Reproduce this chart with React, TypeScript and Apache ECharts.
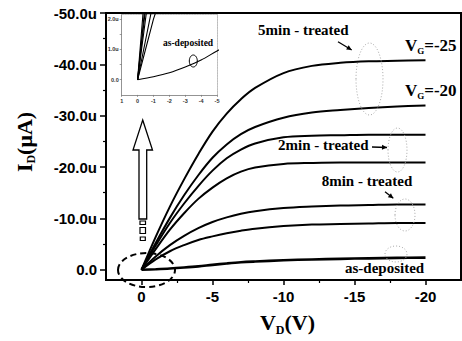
import React, { useEffect, useRef } from 'react';
import * as echarts from 'echarts';

// Drain voltage samples (V)
const VD = [0, -1, -2, -3, -4, -5, -6, -7, -8, -10, -12, -14, -16, -18, -20];
// Drain currents (uA)
const ID_5MIN_VG25 = [0, -6.4, -12.3, -17.6, -22.5, -26.9, -30.4, -33.2, -35.4, -38.3, -39.7, -40.3, -40.6, -40.7, -40.8];
const ID_5MIN_VG20 = [0, -5.2, -10.1, -14.5, -18.4, -21.8, -24.4, -26.4, -27.8, -29.6, -30.6, -31.1, -31.5, -31.8, -32.0];
const ID_2MIN_VG25 = [0, -4.7, -9.1, -12.9, -16.3, -19.3, -21.7, -23.4, -24.6, -25.8, -26.1, -26.2, -26.3, -26.3, -26.3];
const ID_2MIN_VG20 = [0, -4.0, -7.8, -11.0, -13.8, -16.0, -17.8, -19.1, -19.9, -20.6, -20.8, -20.9, -20.9, -20.9, -20.9];
const ID_8MIN_VG25 = [0, -2.6, -4.8, -6.6, -8.1, -9.3, -10.2, -10.9, -11.4, -12.0, -12.3, -12.5, -12.6, -12.7, -12.7];
const ID_8MIN_VG20 = [0, -2.0, -3.6, -4.8, -5.8, -6.5, -7.1, -7.6, -8.0, -8.5, -8.8, -8.9, -9.0, -9.1, -9.1];
const ID_AS_DEP = [0, -0.1, -0.23, -0.42, -0.65, -0.95, -1.22, -1.45, -1.6, -1.85, -2.0, -2.12, -2.22, -2.3, -2.35];

const CURVES = [ID_5MIN_VG25, ID_5MIN_VG20, ID_2MIN_VG25, ID_2MIN_VG20, ID_8MIN_VG25, ID_8MIN_VG20, ID_AS_DEP];
const CURVE_NAMES = ['5min VG=-25', '5min VG=-20', '2min VG=-25', '2min VG=-20', '8min VG=-25', '8min VG=-20', 'as-deposited'];

// Ticks
const X_MAJOR = [0, -5, -10, -15, -20];
const X_MINOR = [-2.5, -7.5, -12.5, -17.5];
const Y_MAJOR = [-50, -40, -30, -20, -10, 0];
const Y_MINOR = [-45, -35, -25, -15, -5];
const INSET_Y_LABELS = [0, 1, 2];
const INSET_Y_TICKS = [0, 0.5, 1, 1.5, 2];

const SANS = 'Liberation Sans';
const SERIF = 'Liberation Serif';

function arrowHead(x1: number, y1: number, x2: number, y2: number, len = 5, half = 2.5) {
  const dx = x2 - x1;
  const dy = y2 - y1;
  const d = Math.hypot(dx, dy);
  const ux = dx / d;
  const uy = dy / d;
  const bx = x2 - ux * len;
  const by = y2 - uy * len;
  const nx = -uy;
  const ny = ux;
  return [
    [x2, y2],
    [bx + nx * half, by + ny * half],
    [bx - nx * half, by - ny * half],
  ];
}

function pointer(x1: number, y1: number, x2: number, y2: number) {
  return [
    { type: 'line', z: 100, shape: { x1, y1, x2, y2 }, style: { stroke: '#000', lineWidth: 1.3 } },
    { type: 'polygon', z: 100, shape: { points: arrowHead(x1, y1, x2, y2) }, style: { fill: '#000' } },
  ];
}

function label(text: string, x: number, y: number, size = 15) {
  return {
    type: 'text',
    z: 100,
    x,
    y,
    style: {
      text,
      fill: '#000',
      fontFamily: SERIF,
      fontWeight: 'bold',
      fontSize: size,
      align: 'left',
      verticalAlign: 'middle',
      textAlign: 'left',
      textVerticalAlign: 'middle',
    },
  };
}

function subText(text: string, x: number, y: number, big: number, small: number, align: string, rotation = 0) {
  return {
    type: 'text',
    z: 100,
    x,
    y,
    rotation,
    style: {
      text,
      fill: '#000',
      align,
      verticalAlign: 'middle',
      textAlign: align,
      textVerticalAlign: 'middle',
      rich: {
        a: { fontFamily: SERIF, fontWeight: 'bold', fontSize: big, lineHeight: big + 4, fill: '#000', color: '#000' },
        s: { fontFamily: SERIF, fontWeight: 'bold', fontSize: small, lineHeight: small, verticalAlign: 'bottom', fill: '#000', color: '#000' },
      },
    },
  };
}

function dottedEllipse(cx: number, cy: number, rx: number, ry: number) {
  return {
    type: 'ellipse',
    z: 100,
    shape: { cx, cy, rx, ry },
    style: { fill: 'none', stroke: '#aaa', lineWidth: 1, lineDash: [1, 2] },
  };
}

export default function App() {
  const ref = useRef<HTMLDivElement>(null);

  useEffect(() => {
    if (!ref.current) return;
    const chart = echarts.init(ref.current, null, { renderer: 'svg' });

    const mainSeries = CURVES.map((c, i) => ({
      type: 'line',
      name: CURVE_NAMES[i],
      xAxisIndex: 0,
      yAxisIndex: 0,
      data: VD.map((x, j) => [x, c[j]]),
      showSymbol: false,
      smooth: 0.35,
      silent: true,
      lineStyle: { color: '#000', width: i === 6 ? 2.6 : 2 },
      itemStyle: { color: '#000' },
    }));

    const insetSeries = CURVES.map((c, i) => ({
      type: 'line',
      name: 'inset ' + CURVE_NAMES[i],
      xAxisIndex: 2,
      yAxisIndex: 2,
      data: VD.map((x, j) => [x, -c[j]]),
      showSymbol: false,
      smooth: i === 6 ? 0.3 : false,
      clip: true,
      silent: true,
      lineStyle: { color: '#000', width: 1.1 },
      itemStyle: { color: '#000' },
    }));

    const labelStyle = {
      fontFamily: SANS,
      fontWeight: 'bold',
      fontSize: 15,
      color: '#000',
    };
    const insetLabel = {
      fontFamily: SANS,
      fontWeight: 'bold',
      fontSize: 5.5,
      color: '#333',
    };

    const option: any = {
      animation: false,
      backgroundColor: '#fff',
      grid: [
        { left: 106, top: 13, width: 355, height: 267, show: true, borderColor: '#000', borderWidth: 2, backgroundColor: 'transparent' },
        { left: 121.7, top: 14.6, width: 95.3, height: 80.3, show: false },
      ],
      xAxis: [
        {
          gridIndex: 0,
          type: 'value',
          min: -22.5,
          max: 2.5,
          inverse: true,
          position: 'bottom',
          axisLine: { onZero: false, lineStyle: { color: '#000', width: 2 } },
          axisTick: { customValues: X_MAJOR, length: 5, lineStyle: { color: '#000', width: 1.5 } },
          axisLabel: { customValues: X_MAJOR, formatter: (v: number) => String(v), margin: 9, ...labelStyle },
          splitLine: { show: false },
        },
        {
          gridIndex: 0,
          type: 'value',
          min: -22.5,
          max: 2.5,
          inverse: true,
          position: 'bottom',
          axisLine: { show: false, onZero: false },
          axisTick: { customValues: X_MINOR, length: 3, lineStyle: { color: '#000', width: 1.2 } },
          axisLabel: { show: false },
          splitLine: { show: false },
        },
        {
          gridIndex: 1,
          type: 'value',
          min: -5,
          max: 1,
          interval: 1,
          inverse: true,
          position: 'bottom',
          axisLine: { onZero: false, lineStyle: { color: '#777', width: 0.8 } },
          axisTick: { length: 2, lineStyle: { color: '#777', width: 0.7 } },
          axisLabel: { margin: 3, formatter: (v: number) => String(v), ...insetLabel },
          splitLine: { show: false },
        },
        {
          gridIndex: 1,
          type: 'value',
          min: -5,
          max: 1,
          inverse: true,
          position: 'top',
          axisLine: { onZero: false, lineStyle: { color: '#aaa', width: 0.8, type: 'dotted' } },
          axisTick: { show: false },
          axisLabel: { show: false },
          splitLine: { show: false },
        },
      ],
      yAxis: [
        {
          gridIndex: 0,
          type: 'value',
          min: -50,
          max: 2,
          inverse: true,
          position: 'left',
          axisLine: { onZero: false, lineStyle: { color: '#000', width: 2 } },
          axisTick: { customValues: Y_MAJOR, length: 6, lineStyle: { color: '#000', width: 1.5 } },
          axisLabel: {
            customValues: Y_MAJOR,
            formatter: (v: number) => (v === 0 ? '0.0' : v.toFixed(1) + 'u'),
            margin: 9,
            ...labelStyle,
          },
          splitLine: { show: false },
        },
        {
          gridIndex: 0,
          type: 'value',
          min: -50,
          max: 2,
          inverse: true,
          position: 'left',
          axisLine: { show: false, onZero: false },
          axisTick: { customValues: Y_MINOR, length: 3, lineStyle: { color: '#000', width: 1.2 } },
          axisLabel: { show: false },
          splitLine: { show: false },
        },
        {
          gridIndex: 1,
          type: 'value',
          min: -0.5,
          max: 2.15,
          position: 'left',
          axisLine: { onZero: false, lineStyle: { color: '#777', width: 0.8 } },
          axisTick: { customValues: INSET_Y_TICKS, length: 2, lineStyle: { color: '#777', width: 0.7 } },
          axisLabel: {
            customValues: INSET_Y_LABELS,
            formatter: (v: number) => (v === 0 ? '0.0' : v.toFixed(1) + 'u'),
            margin: 3,
            ...insetLabel,
          },
          splitLine: { show: false },
        },
        {
          gridIndex: 1,
          type: 'value',
          min: -0.5,
          max: 2.15,
          position: 'right',
          axisLine: { onZero: false, lineStyle: { color: '#aaa', width: 0.8, type: 'dotted' } },
          axisTick: { show: false },
          axisLabel: { show: false },
          splitLine: { show: false },
        },
      ],
      series: [...mainSeries, ...insetSeries],
      graphic: [
        // axis titles
        subText('{a|I}{s|D}{a|(μA)}', 24, 142, 22, 12, 'center', Math.PI / 2),
        subText('{a|V}{s|D}{a|(V)}', 287.5, 322.5, 22, 12, 'center'),
        // curve annotations
        label('5min - treated', 258, 30),
        ...pointer(338, 41.7, 351.7, 50),
        subText('{a|V}{s|G}{a|=-25}', 405, 45, 17, 9, 'left'),
        subText('{a|V}{s|G}{a|=-20}', 405, 90, 17, 9, 'left'),
        label('2min - treated', 278, 145),
        ...pointer(372, 147, 387, 147.5),
        label('8min - treated', 321.7, 181),
        ...pointer(385, 191.7, 393.3, 198.3),
        label('as-deposited', 345, 268),
        dottedEllipse(369.5, 79, 13.5, 36),
        dottedEllipse(397.5, 150, 9.5, 22),
        dottedEllipse(405, 215, 10, 16),
        dottedEllipse(396, 254, 11, 8),
        // origin dashed ellipse
        {
          type: 'ellipse',
          z: 100,
          shape: { cx: 146.5, cy: 270, rx: 28.5, ry: 17 },
          style: { fill: 'none', stroke: '#000', lineWidth: 2, lineDash: [6, 4] },
        },
        // hollow arrow
        {
          type: 'polygon',
          z: 100,
          shape: {
            points: [
              [142.7, 120],
              [152.5, 150],
              [146.7, 150],
              [146.7, 219],
              [139, 219],
              [139, 150],
              [133, 150],
            ],
          },
          style: { fill: '#fff', stroke: '#000', lineWidth: 1.3 },
        },
        { type: 'rect', z: 100, shape: { x: 140, y: 221, width: 5.5, height: 3.5 }, style: { fill: '#fff', stroke: '#000', lineWidth: 1.2 } },
        { type: 'rect', z: 100, shape: { x: 140, y: 227.5, width: 5.5, height: 6 }, style: { fill: '#fff', stroke: '#000', lineWidth: 1.2 } },
        { type: 'rect', z: 100, shape: { x: 140.3, y: 237, width: 5, height: 3.5 }, style: { fill: '#fff', stroke: '#000', lineWidth: 1.2 } },
        // inset annotations
        label('as-deposited', 163, 42.5, 9.5),
        {
          type: 'ellipse',
          z: 100,
          shape: { cx: 193.3, cy: 61, rx: 4, ry: 6 },
          style: { fill: 'none', stroke: '#000', lineWidth: 1 },
        },
      ],
    };

    chart.setOption(option);
    return () => {
      chart.dispose();
    };
  }, []);

  return (
    <div
      ref={ref}
      style={{ position: 'fixed', left: 0, top: 0, width: 462, height: 341, background: '#fff' }}
    />
  );
}
